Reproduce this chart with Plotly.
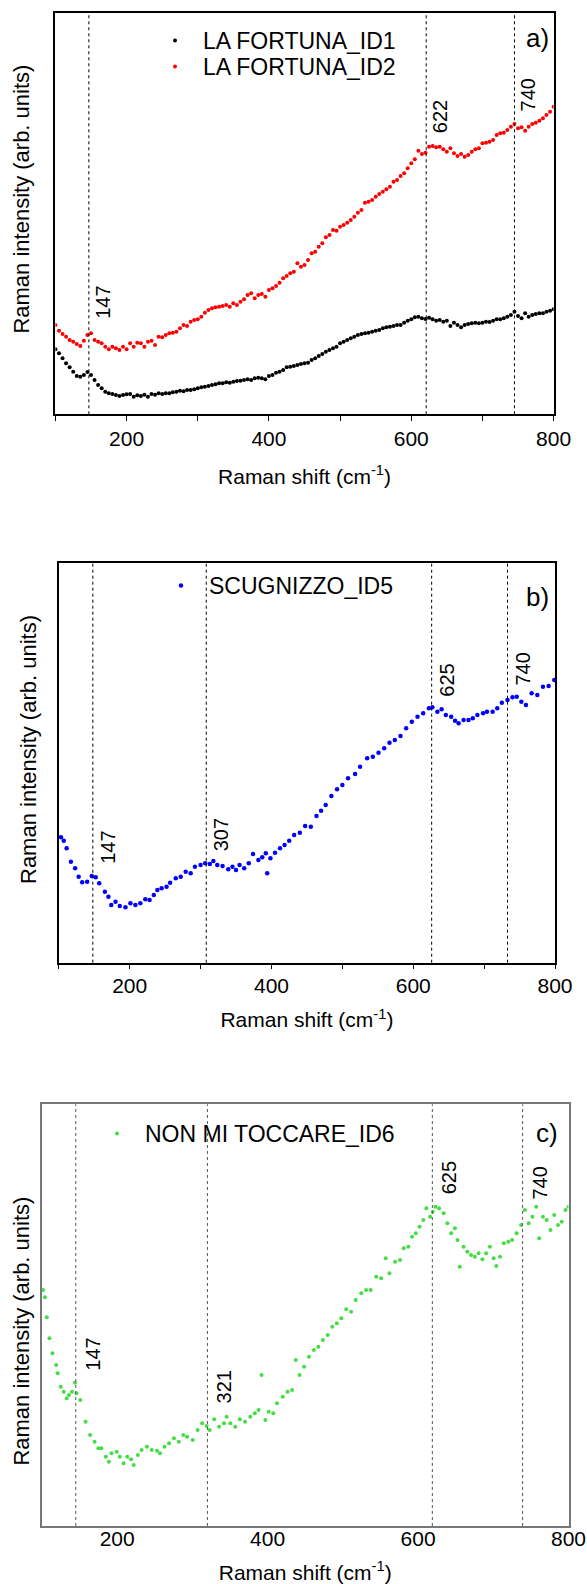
import plotly.graph_objects as go

# ---- data (arbitrary intensity units) ----
shift_a = list(range(100, 805, 5))
fortuna_id1 = [
    19.5, 18.3, 16.8, 15.3, 14.1, 12.8, 11.5, 11.3, 11.8, 12.7,
    11.8, 10.3, 8.8, 7.8, 6.8, 6.3, 6.1, 5.8, 5.5, 5.8,
    6.0, 6.1, 5.3, 5.7, 5.5, 5.9, 5.3, 6.1, 5.9, 6.3,
    6.1, 6.3, 6.3, 6.6, 6.8, 7.1, 6.9, 7.3, 7.3, 7.5,
    7.8, 8.1, 8.3, 8.5, 8.8, 9.0, 9.3, 9.3, 9.6, 9.5,
    9.8, 10.0, 10.1, 10.3, 10.5, 10.3, 10.8, 11.0, 10.8, 10.5,
    11.5, 11.8, 12.5, 12.8, 13.3, 14.1, 14.3, 14.5, 14.8, 15.1,
    15.3, 15.5, 16.3, 16.8, 17.5, 18.1, 18.8, 19.3, 19.8, 20.3,
    21.3, 21.8, 22.3, 22.8, 23.3, 23.8, 24.1, 24.3, 24.5, 24.8,
    25.1, 25.3, 25.8, 26.1, 26.3, 26.5, 26.8, 26.8, 27.5, 28.1,
    28.5, 29.1, 29.3, 28.8, 28.6, 29.0, 28.5, 28.1, 28.3, 27.8,
    28.1, 26.5, 27.5, 26.8, 26.1, 26.8, 27.1, 27.3, 27.5, 27.3,
    27.5, 27.8, 27.7, 28.1, 28.5, 28.5, 28.8, 29.3, 29.8, 30.8,
    29.5, 28.8, 30.3, 29.3, 29.8, 30.1, 30.3, 30.3, 30.8, 31.1,
    31.5,
]
fortuna_id2 = [
    26.8, 25.1, 24.1, 23.3, 22.3, 21.8, 21.1, 20.5, 22.1, 23.8,
    24.3, 22.3, 21.8, 21.3, 20.3, 19.5, 20.3, 19.8, 19.3, 20.3,
    19.5, 21.3, 20.3, 21.5, 21.3, 20.3, 21.8, 22.1, 20.8, 23.3,
    23.1, 23.8, 24.3, 24.5, 24.8, 25.8, 26.8, 26.5, 27.8, 28.3,
    28.5, 29.3, 30.5, 31.3, 31.8, 32.1, 32.3, 32.5, 32.8, 32.3,
    33.3, 32.8, 33.8, 34.5, 35.8, 36.3, 34.8, 35.8, 36.1, 35.3,
    37.3, 37.8, 38.5, 39.5, 40.8, 41.5, 42.3, 42.8, 45.3, 44.3,
    44.8, 46.3, 48.3, 48.8, 50.3, 51.3, 53.1, 53.8, 55.3, 55.1,
    56.3, 56.8, 57.5, 58.3, 59.3, 60.5, 61.3, 63.5, 63.8, 64.3,
    65.3, 66.1, 66.8, 67.5, 68.3, 69.8, 70.3, 71.5, 72.3, 73.8,
    75.3, 76.5, 79.1, 78.1, 78.5, 80.3, 80.5, 80.1, 80.3, 79.5,
    78.8, 79.8, 78.3, 77.5, 78.1, 77.3, 77.8, 78.8, 79.5, 79.8,
    81.3, 81.5, 81.8, 82.3, 83.8, 84.3, 84.5, 85.3, 86.3, 87.1,
    85.8, 86.1, 85.1, 86.3, 87.1, 87.5, 88.1, 88.8, 89.8, 90.8,
    92.3,
]

shift_b = [
    103, 107, 111, 117, 123, 128, 133, 140, 146.5, 152, 157, 165, 170, 174,
    180, 186, 194, 201, 208, 215, 222, 228, 234, 239, 245, 252, 257, 265,
    272, 279, 286, 292, 300, 306.5, 313, 318, 323.5, 331, 339, 345, 350,
    355, 361.5, 368, 374, 381.5, 387, 392, 394, 398.5, 405, 412, 418.5,
    425, 432, 440, 447.5, 455.5, 463.5, 470, 476.5, 484.5, 492.5, 500, 508,
    518, 525, 535, 543, 551, 559, 566.5, 574, 582, 590, 598, 606, 614, 622,
    627, 634, 640, 646, 653.5, 659, 664, 671, 678, 684, 690.5, 698.5, 704,
    712, 718.5, 725, 733, 740, 746, 752.5, 759, 767, 775, 783, 791, 799,
]
scugnizzo_id5 = [
    37.6, 36.6, 34.3, 30.3, 28.3, 25.8, 24.1, 24.3, 26.0, 25.6, 23.8, 21.3, 19.8, 17.3,
    18.3, 17.0, 16.6, 17.8, 17.3, 17.8, 19.0, 18.8, 20.3, 21.8, 22.3, 22.8, 24.0, 25.3,
    25.8, 27.3, 26.8, 28.8, 29.3, 29.8, 29.6, 30.5, 29.3, 29.0, 28.0, 28.8, 27.8,
    29.3, 28.3, 29.8, 32.6, 30.8, 31.6, 32.8, 26.8, 31.3, 33.0, 34.3, 35.3,
    36.6, 38.3, 39.0, 41.0, 40.8, 44.0, 45.6, 47.3, 50.0, 52.0, 53.3, 55.3,
    56.6, 58.8, 61.3, 61.8, 63.0, 64.3, 66.0, 66.8, 68.0, 70.3, 72.3, 73.8, 74.8, 76.3,
    76.6, 75.3, 76.0, 74.3, 73.8, 72.6, 71.8, 72.8, 72.8, 73.3, 74.3, 74.8, 75.3,
    75.3, 76.3, 78.0, 78.8, 79.6, 79.8, 78.3, 77.3, 80.8, 80.3, 82.8, 83.0, 84.8,
]

shift_c = [
    101.5, 104, 106.5, 110, 114, 119, 121, 125, 129, 133, 136, 140, 144, 146,
    151, 158, 164, 170, 175, 179, 185, 189, 192.5, 199.5, 203.5, 208.5, 213.5,
    218.5, 222, 227.5, 232.5, 239.5, 246, 253, 257, 263, 269, 275.5, 282, 288,
    293, 300.5, 307, 313, 319, 323, 329, 335.5, 342, 345.5, 350.5, 357, 363,
    370, 377, 383, 388, 392, 397, 401.5, 407.5, 412.5, 420, 426.5, 432.5,
    437.5, 442.5, 448.5, 455, 461.5, 467.5, 473.5, 480, 486, 492, 498, 504.5,
    511, 517, 524.5, 531, 537, 544.5, 551, 557, 562, 569.5, 576, 581, 587, 592,
    597, 602, 607, 611, 616, 619.5, 623, 628, 634, 639, 644, 649, 652.5, 655.5,
    660.5, 665.5, 670.5, 675.5, 680.5, 685.5, 690.5, 695.5, 700.5, 704, 709,
    714, 720, 725, 731, 737, 742, 747, 752, 757, 761, 766, 771, 776, 781, 786,
    791, 796, 800,
]
toccare_id6 = [
    70.8, 68.6, 62.6, 56.3, 51.8, 48.3, 45.8, 41.8, 40.3, 38.3, 39.3, 40.3, 43.0, 39.8,
    37.8, 31.3, 27.3, 25.3, 23.3, 23.3, 20.8, 19.3, 21.8, 22.3, 20.8, 18.8, 20.8,
    20.0, 18.3, 21.3, 22.8, 23.8, 22.8, 22.6, 21.8, 23.8, 24.8, 26.3, 25.3, 27.3,
    26.8, 25.8, 28.8, 30.8, 30.0, 28.8, 32.0, 29.8, 30.8, 32.8, 30.8, 29.8, 32.0,
    31.3, 32.8, 33.8, 34.8, 45.3, 31.8, 34.3, 33.8, 36.8, 38.8, 40.3, 40.8,
    49.8, 45.3, 47.8, 50.8, 52.8, 53.8, 55.8, 57.3, 59.8, 60.8, 62.3, 65.0,
    64.3, 67.8, 69.8, 70.8, 70.8, 74.8, 74.3, 80.3, 75.8, 79.3, 79.8, 83.3, 83.8, 86.8,
    87.8, 89.8, 91.8, 95.3, 92.8, 94.3, 95.8, 95.3, 93.8, 90.8, 87.8, 89.3, 85.8, 77.8,
    83.8, 82.3, 81.3, 80.8, 81.8, 80.0, 81.8, 83.8, 80.3, 78.0, 80.8,
    84.8, 85.3, 85.8, 87.8, 90.3, 94.8, 90.8, 92.8, 95.8, 86.3, 92.8, 91.8, 88.8, 93.3, 90.3,
    91.3, 94.8, 95.8,
]

# peak markers: line positions and printed labels, label heights (intensity units)
peaks_a = [147, 621, 745]
peak_text_a = ["147", "622", "740"]
peak_y_a = [33.7, 89.2, 95.8]
peaks_b = [148, 308, 626, 733]
peak_text_b = ["147", "307", "625", "740"]
peak_y_b = [34.7, 38.3, 84.8, 88.1]
peaks_c = [145, 320, 619, 739]
peak_text_c = ["147", "321", "625", "740"]
peak_y_c = [51.6, 41.7, 104.4, 102.9]

FONT = "Arial, Liberation Sans, sans-serif"
W, H = 587, 1584

fig = go.Figure()
fig.add_trace(go.Scatter(x=shift_a, y=fortuna_id1, mode="markers", name="LA FORTUNA_ID1",
                         marker=dict(color="black", size=4), xaxis="x", yaxis="y", legend="legend"))
fig.add_trace(go.Scatter(x=shift_a, y=fortuna_id2, mode="markers", name="LA FORTUNA_ID2",
                         marker=dict(color="#ff0000", size=4), xaxis="x", yaxis="y", legend="legend4"))
fig.add_trace(go.Scatter(x=shift_b, y=scugnizzo_id5, mode="markers", name="SCUGNIZZO_ID5",
                         marker=dict(color="#0000ff", size=4.5), xaxis="x2", yaxis="y2", legend="legend2"))
fig.add_trace(go.Scatter(x=shift_c, y=toccare_id6, mode="markers", name="NON MI TOCCARE_ID6",
                         marker=dict(color="#44dd44", size=4), xaxis="x3", yaxis="y3", legend="legend3"))

major_ticks = [200, 400, 600, 800]
minor_ticks = [100, 300, 500, 700]
xtitle = "Raman shift (cm<sup>-1</sup>)"
ytitle = "Raman intensity (arb. units)"

def xaxis(dom, anchor, ticks, color, standoff, label_shift, ticklen=5):
    return dict(domain=dom, anchor=anchor, range=[100, 800], showgrid=False, zeroline=False,
                automargin=False, showline=True, mirror=True, linecolor=color, linewidth=1.5,
                tickvals=major_ticks, ticks=ticks, ticklen=ticklen, tickcolor=color,
                minor=dict(tickvals=minor_ticks, ticks=ticks, ticklen=ticklen, tickcolor=color,
                           showgrid=False),
                ticklabelstandoff=label_shift,
                tickfont=dict(family=FONT, size=21, color="black"),
                title=dict(text=xtitle, font=dict(family=FONT, size=21, color="black"),
                           standoff=standoff))

def yaxis(dom, anchor, top, color):
    return dict(domain=dom, anchor=anchor, range=[0, top], showgrid=False, zeroline=False,
                automargin=False, showline=True, mirror=True, linecolor=color, linewidth=1.5,
                showticklabels=False, ticks="")

shapes = []
annotations = []
for xr, yr, lines, texts, ys, col, shift in [
    ("x", "y", peaks_a, peak_text_a, peak_y_a, "black", 14),
    ("x2", "y2", peaks_b, peak_text_b, peak_y_b, "black", 15),
    ("x3", "y3", peaks_c, peak_text_c, peak_y_c, "#555555", 17),
]:
    for px, t, py in zip(lines, texts, ys):
        shapes.append(dict(type="line", xref=xr, yref=yr + " domain", x0=px, x1=px, y0=0, y1=1,
                           line=dict(color=col, width=1, dash="dot")))
        annotations.append(dict(xref=xr, yref=yr, x=px, y=py, text=t, textangle=-90,
                                showarrow=False, xshift=shift,
                                font=dict(family=FONT, size=20, color="black")))

for lab, xr, yr, x, y in [("a)", "x", "y", 778, 112.8), ("b)", "x2", "y2", 776, 109.8),
                          ("c)", "x3", "y3", 771.5, 118)]:
    annotations.append(dict(xref=xr, yref=yr, x=x, y=y, text=lab, showarrow=False,
                            font=dict(family=FONT, size=26, color="black")))

# y-axis titles sit a little off the panel centres in the original, so place them directly
for px, py in [(20.6, 199), (28, 750), (20.6, 1331)]:
    annotations.append(dict(xref="paper", yref="paper", x=px / W, y=1 - py / H, text=ytitle,
                            textangle=-90, showarrow=False, xanchor="center", yanchor="middle",
                            font=dict(family=FONT, size=22, color="black")))

legend_font = dict(family=FONT, size=23, color="black")

def legend_at(px, py):
    return dict(x=px / W, y=1 - py / H, xanchor="left", yanchor="top", bgcolor="rgba(0,0,0,0)",
                font=legend_font, itemwidth=46)

fig.update_layout(
    width=W, height=H, autosize=False, showlegend=True,
    margin=dict(l=0, r=0, t=0, b=0),
    paper_bgcolor="white", plot_bgcolor="white",
    xaxis=xaxis([0.0944, 0.9431], "y", "outside", "black", 20, 0),
    yaxis=yaxis([0.73845, 0.99198], "x", 120.5, "black"),
    xaxis2=xaxis([0.1002, 0.9455], "y2", "outside", "black", 17, -2),
    yaxis2=yaxis([0.39223, 0.64438], "x2", 119.8, "black"),
    xaxis3=xaxis([0.0714, 0.9685], "y3", "", "#777777", 19, -7, ticklen=0),
    yaxis3=yaxis([0.03662, 0.30284], "x3", 126.5, "#777777"),
    legend=legend_at(147, 19),
    legend4=legend_at(147, 45),
    legend2=legend_at(153, 564),
    legend3=legend_at(89, 1112),
    shapes=shapes,
    annotations=annotations,
)

fig.write_html("out.html", config={"displayModeBar": False},
               post_script="document.body.style.margin='0px';")
